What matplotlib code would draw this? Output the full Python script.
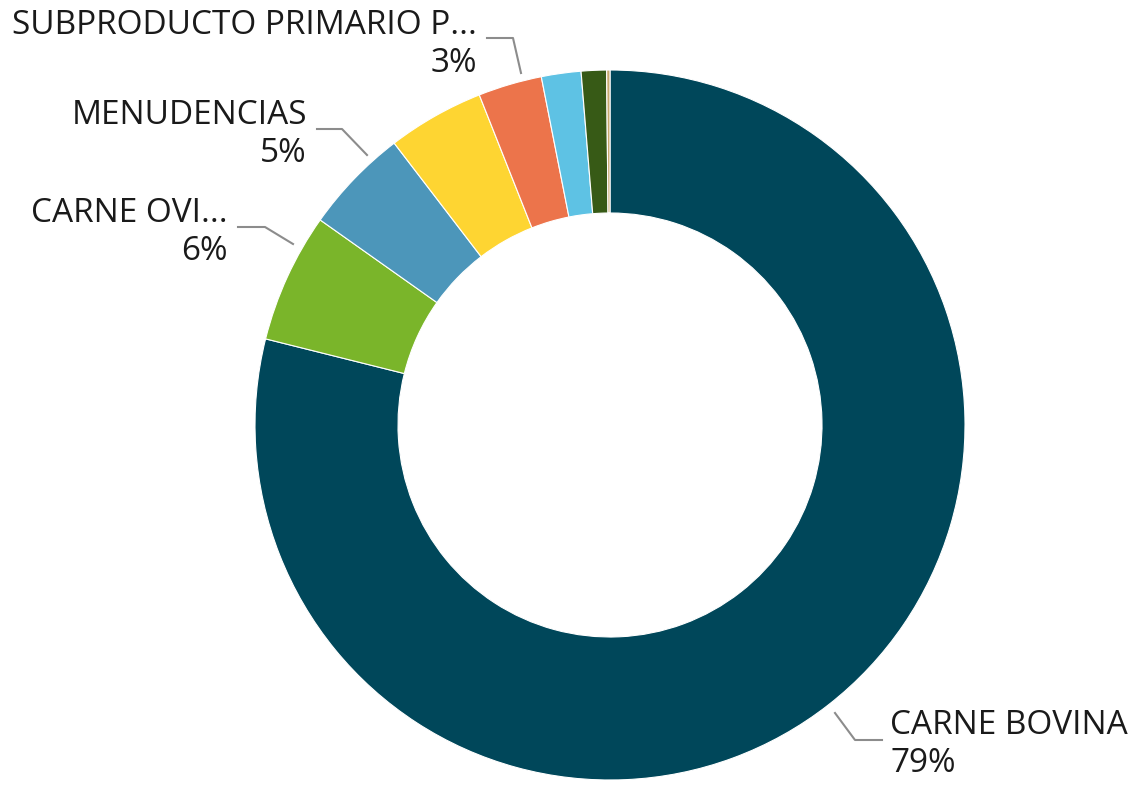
import matplotlib
matplotlib.use("Agg")
import matplotlib.pyplot as plt

# share of each product (percent)
categories = ["CARNE BOVINA", "CARNE OVINA", "MENUDENCIAS", "OTROS",
              "SUBPRODUCTO PRIMARIO PORCINO", "OTROS 2", "OTROS 3", "OTROS 4"]
values = [78.9, 5.9, 4.8, 4.4, 2.9, 1.8, 1.15, 0.15]
colors = ["#00475A", "#7AB52A", "#4C96BA", "#FED532",
          "#EC744B", "#5EC2E4", "#375A16", "#C8A96E"]
# labels shown on the chart (truncated like the original)
shown = {0: "CARNE BOVINA", 1: "CARNE OVI...", 2: "MENUDENCIAS",
         4: "SUBPRODUCTO PRIMARIO P..."}

plt.rcParams['font.family'] = ['Open Sans', 'DejaVu Sans']

fig = plt.figure(figsize=(11.34, 7.86), dpi=100)
ax = fig.add_axes([0, 0, 1, 1])

cx, cy, R = 610, 361, 355
ax.pie(values, colors=colors, startangle=90, counterclock=False,
       center=(cx, cy), radius=R, frame=True,
       wedgeprops=dict(width=R - 212, linewidth=0.8, edgecolor='white'))
ax.set_xlim(0, 1134)
ax.set_ylim(0, 786)
ax.set_aspect('equal')
ax.axis('off')

# leader lines (start, elbow, end) and text anchor, in pixels
layout = {
    0: dict(line=[(835, 73), (855, 46), (882, 46)], text=(890, 41), ha='left'),
    1: dict(line=[(293, 542), (265, 559), (238, 559)], text=(228, 554), ha='right'),
    2: dict(line=[(367, 631), (342, 657), (317, 657)], text=(307, 651), ha='right'),
    4: dict(line=[(521, 713), (513, 748), (487, 748)], text=(477, 741), ha='right'),
}

for i, name in shown.items():
    lay = layout[i]
    xs, ys = zip(*lay['line'])
    ax.plot(xs, ys, color='#8C8C8C', lw=1.5)
    ax.text(lay['text'][0], lay['text'][1], f"{name}\n{round(values[i])}%",
            ha=lay['ha'], va='center', fontsize=24, color='#1A1A1A',
            linespacing=1.2, multialignment=lay['ha'])

fig.savefig("out.png", dpi=100)
